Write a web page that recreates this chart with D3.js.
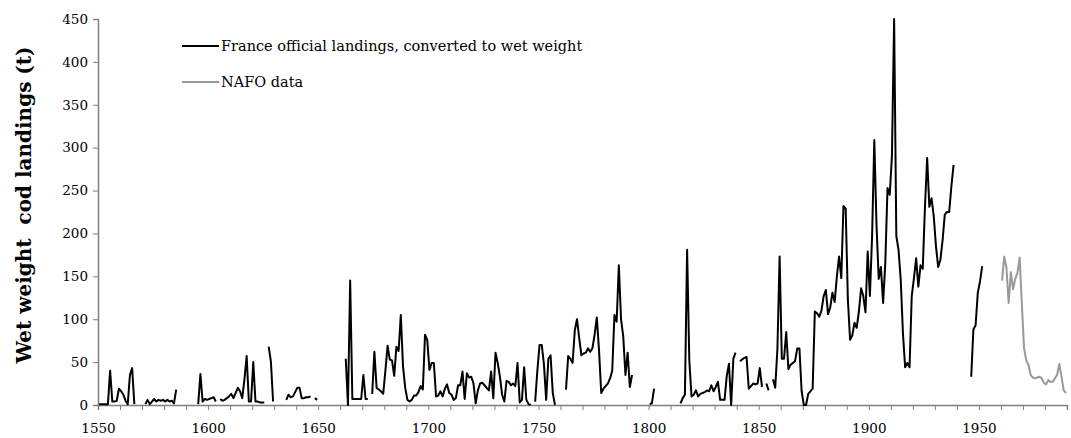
<!DOCTYPE html>
<html>
<head>
<meta charset="utf-8">
<script src="https://cdn.jsdelivr.net/npm/d3@7"></script>
<style>
  body { margin: 0; background: #fff; }
  svg text { font-family: "DejaVu Serif", Georgia, serif; }
</style>
</head>
<body>
<svg id="chart"></svg>
<script>
// France official landings (t wet weight), one value per year from 1550, null = no record
var franceStart = 1550;
var franceLandings = [
  1, 1, 1, 1, 1, 40, 4, 4, 5, 19,
  16, 12, 5, 1, 35, 43, 1, null, null, null,
  null, 1, 6, 1, 4, 7, 4, 6, 5, 6,
  4, 6, 4, 5, 2, 18, null, null, null, null,
  null, null, null, null, null, 1, 36, 4, 7, 6,
  7, 8, 9, 4, null, 7, 5, 6, 8, 10,
  13, 8, 14, 20, 16, 8, 30, 57, 4, 4,
  50, 4, 4, 3, 3, 3, null, 68, 51, 4,
  null, null, null, null, null, 6, 12, 9, 10, 15,
  20, 20, 8, 8, 9, 9, 10, null, 8, 6,
  null, null, null, null, null, null, null, null, null, null,
  null, null, 54, 0, 145, 7, 7, 7, 7, 7,
  35, 7, 7, null, 13, 62, 20, 18, 16, 13,
  40, 69, 53, 52, 34, 68, 63, 105, 45, 20,
  6, 4, 6, 11, 11, 15, 22, 18, 82, 76,
  41, 49, 49, 10, 11, 16, 10, 19, 24, 14,
  12, 6, 8, 23, 23, 39, 7, 37, 32, 33,
  25, 2, 17, 25, 26, 23, 20, 17, 39, 8,
  61, 49, 33, 12, 4, 28, 27, 23, 25, 22,
  49, 3, 6, 44, 6, 1, 0, null, 4, 40,
  70, 70, 47, 6, 54, 58, 14, 0, null, null,
  null, null, 18, 57, 54, 49, 87, 100, 78, 58,
  60, 61, 66, 62, 66, 82, 102, 64, 14, 19,
  22, 25, 31, 40, 105, 97, 163, 100, 80, 35,
  61, 21, 35, null, null, null, null, null, null, null,
  1, 2, 19, null, null, null, null, null, null, null,
  null, null, null, null, 2, 8, 12, 181, 52, 10,
  12, 17, 10, 13, 14, 15, 17, 16, 23, 16,
  21, 27, 6, 6, 6, 34, 48, 0, 54, 61,
  null, 51, 53, 55, 56, 19, 22, 25, 24, 25,
  43, 21, null, 25, 17, null, 30, 20, 65, 173,
  54, 54, 85, 42, 47, 49, 51, 66, 66, 16,
  0, 0, 13, 16, 19, 109, 107, 103, 110, 127,
  134, 106, 114, 131, 120, 150, 173, 148, 232, 229,
  123, 76, 81, 96, 90, 109, 136, 127, 108, 179,
  127, 197, 309, 210, 147, 161, 119, 166, 253, 245,
  290, 450, 197, 181, 146, 84, 44, 49, 44, 127,
  148, 171, 138, 163, 159, 231, 288, 231, 241, 220,
  185, 161, 169, 192, 222, 225, 225, 255, 280, null,
  null, null, null, null, null, null, 33, 88, 93, 131,
  144, 162
];

// NAFO data, one value per year from 1960
var nafoStart = 1960;
var nafoLandings = [
  145, 173, 160, 119, 155, 135, 147, 154, 172, 117,
  66, 52, 47, 35, 32, 31, 32, 33, 31, 26,
  24, 29, 27, 27, 31, 35, 48, 33, 17, 14
];

var yTicks = [0, 50, 100, 150, 200, 250, 300, 350, 400, 450];
var xTicks = d3.range(1550, 1991, 10);
var xLabels = [1550, 1600, 1650, 1700, 1750, 1800, 1850, 1900, 1950];

var seriesNames = ['France official landings, converted to wet weight', 'NAFO data'];
var seriesColors = ['#000000', '#999999'];

var width = 1071, height = 438;

var svg = d3.select('#chart')
  .attr('width', width)
  .attr('height', height);

var x = d3.scaleLinear().domain([1550, 1990]).range([98, 1067]);
var y = d3.scaleLinear().domain([0, 450]).range([405, 19]);

function toPoints(start, values) {
  return values.map(function (v, i) {
    return { year: start + i, value: v };
  });
}

// each year sits in the middle of its category slot
var line = d3.line()
  .defined(function (d) { return d.value !== null; })
  .x(function (d) { return x(d.year + 0.5); })
  .y(function (d) { return y(d.value); });

// axes
var yAxis = d3.axisLeft(y)
  .tickValues(yTicks)
  .tickSize(5)
  .tickPadding(5);

var yAxisEl = svg.append('g')
  .attr('transform', 'translate(' + x(1550) + ',0)')
  .call(yAxis);

var xAxis = d3.axisBottom(x)
  .tickValues(xTicks)
  .tickSize(5)
  .tickPadding(13)
  .tickFormat(function (d) { return xLabels.indexOf(d) >= 0 ? d : ''; });

var xAxisEl = svg.append('g')
  .attr('transform', 'translate(0,' + y(0) + ')')
  .call(xAxis);

[yAxisEl, xAxisEl].forEach(function (g) {
  g.select('.domain').attr('stroke', '#808080').attr('stroke-width', 1.5);
  g.selectAll('.tick line').attr('stroke', '#808080').attr('stroke-width', 1);
  g.selectAll('.tick text')
    .attr('fill', '#000')
    .style('font-size', '13.5px')
    .style('font-family', '"DejaVu Serif", serif');
});

svg.append('text')
  .text('Wet weight  cod landings (t)')
  .attr('transform', 'translate(' + [31, 205] + ') rotate(-90)')
  .attr('text-anchor', 'middle')
  .style('font-size', '20px')
  .style('font-weight', 'bold')
  .style('white-space', 'pre')
  .attr('xml:space', 'preserve');

// series
svg.append('path')
  .datum(toPoints(franceStart, franceLandings))
  .attr('fill', 'none')
  .attr('stroke', seriesColors[0])
  .attr('stroke-width', 2)
  .attr('stroke-linejoin', 'round')
  .attr('d', line);

svg.append('path')
  .datum(toPoints(nafoStart, nafoLandings))
  .attr('fill', 'none')
  .attr('stroke', seriesColors[1])
  .attr('stroke-width', 2)
  .attr('stroke-linejoin', 'round')
  .attr('d', line);

// legend
var legend = svg.append('g')
  .attr('transform', 'translate(182,46)');

var legendItems = legend.selectAll('g')
  .data(seriesNames)
  .enter()
  .append('g')
  .attr('transform', function (d, i) { return 'translate(0,' + i * 36 + ')'; });

legendItems.append('line')
  .attr('x1', 0)
  .attr('x2', 37)
  .attr('stroke', function (d, i) { return seriesColors[i]; })
  .attr('stroke-width', 2);

legendItems.append('text')
  .attr('x', 39)
  .attr('y', 5)
  .style('font-size', '14.5px')
  .text(function (d) { return d; });
</script>
</body>
</html>
